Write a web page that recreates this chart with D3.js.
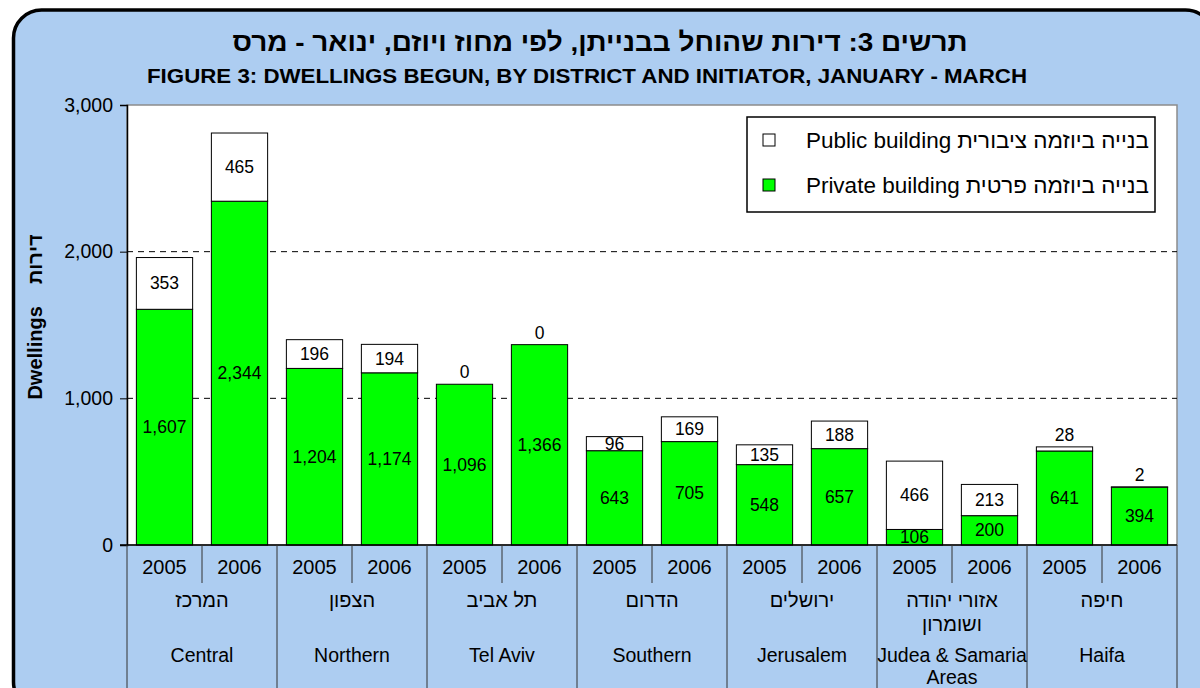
<!DOCTYPE html>
<html>
<meta charset="utf-8" />
<script src="https://d3js.org/d3.v7.min.js"></script>
<style>
  body { margin: 0; background: #fff; }
  text { font-family: "Liberation Sans", Arial, sans-serif; fill: #000; }
</style>
<body>
<svg width="1200" height="688" id="chart"></svg>
<script>
// data
const districtsEn = ["Central", "Northern", "Tel Aviv", "Southern", "Jerusalem", "Judea & Samaria|Areas", "Haifa"];
const districtsHe = ["המרכז", "הצפון", "תל אביב", "הדרום", "ירושלים", "אזורי יהודה|ושומרון", "חיפה"];
const years = ["2005", "2006"];
const privateVals = [1607, 2344, 1204, 1174, 1096, 1366, 643, 705, 548, 657, 106, 200, 641, 394];
const publicVals = [353, 465, 196, 194, 0, 0, 96, 169, 135, 188, 466, 213, 28, 2];
const yTicks = [0, 1000, 2000, 3000];

const svg = d3.select("#chart");
const blue = "#adcdf1";
const green = "#00ff00";

// frame
svg.append("rect")
  .attr("x", 13.5).attr("y", 10)
  .attr("width", 1200).attr("height", 700)
  .attr("rx", 28)
  .attr("fill", blue)
  .attr("stroke", "#000")
  .attr("stroke-width", 3.5);

// titles
svg.append("text")
  .attr("x", 600).attr("y", 51)
  .attr("text-anchor", "middle")
  .attr("font-size", 26).attr("font-weight", "bold")
  .attr("direction", "rtl")
  .attr("textLength", 735).attr("lengthAdjust", "spacingAndGlyphs")
  .text("תרשים 3: דירות שהוחל בבנייתן, לפי מחוז ויוזם, ינואר - מרס");

svg.append("text")
  .attr("x", 587).attr("y", 83)
  .attr("text-anchor", "middle")
  .attr("font-size", 20).attr("font-weight", "bold")
  .attr("textLength", 880).attr("lengthAdjust", "spacingAndGlyphs")
  .text("FIGURE 3: DWELLINGS BEGUN, BY DISTRICT AND INITIATOR, JANUARY - MARCH");

const pLeft = 127, pRight = 1177, pTop = 105, pBottom = 545;

const bars = privateVals.map((p, i) => ({
  key: i, district: Math.floor(i / 2), year: years[i % 2], priv: p, pub: publicVals[i]
}));

const x = d3.scaleBand()
  .domain(bars.map(d => d.key))
  .range([pLeft, pRight])
  .paddingInner(0.25).paddingOuter(0.125);

const xGroup = d3.scaleBand()
  .domain(d3.range(districtsEn.length))
  .range([pLeft, pRight]);

const y = d3.scaleLinear().domain([0, 3000]).range([pBottom, pTop]);

// plot area
svg.append("rect")
  .attr("x", pLeft).attr("y", pTop)
  .attr("width", pRight - pLeft).attr("height", pBottom - pTop)
  .attr("fill", "#fff")
  .attr("stroke", "#8c8c8c").attr("stroke-width", 1.5);

// gridlines
svg.append("g")
  .selectAll("line")
  .data(yTicks.filter(t => t > 0 && t < 3000))
  .join("line")
  .attr("x1", pLeft).attr("x2", pRight)
  .attr("y1", d => y(d)).attr("y2", d => y(d))
  .attr("stroke", "#000")
  .attr("stroke-dasharray", "6,5");

// y axis
const yAxis = svg.append("g")
  .attr("transform", `translate(${pLeft},0)`)
  .call(d3.axisLeft(y).tickValues(yTicks).tickFormat(d3.format(",")).tickSize(7).tickPadding(7));
yAxis.select(".domain").attr("stroke", "#000").attr("stroke-width", 1.5);
yAxis.selectAll("text").attr("font-size", 19.5).attr("font-family", "Liberation Sans, Arial, sans-serif");

svg.append("text")
  .attr("transform", `translate(42, ${(pTop + pBottom) / 2 - 8}) rotate(-90)`)
  .attr("text-anchor", "middle")
  .attr("font-size", 20).attr("font-weight", "bold")
  .text("Dwellings\u00A0\u00A0\u00A0\u00A0דירות");

// bars
const barG = svg.append("g");
barG.selectAll(".priv")
  .data(bars)
  .join("rect")
  .attr("class", "priv")
  .attr("x", d => x(d.key))
  .attr("width", x.bandwidth())
  .attr("y", d => y(d.priv))
  .attr("height", d => y(0) - y(d.priv))
  .attr("fill", green)
  .attr("stroke", "#000").attr("stroke-width", 1);

barG.selectAll(".pub")
  .data(bars.filter(d => d.pub > 0))
  .join("rect")
  .attr("class", "pub")
  .attr("x", d => x(d.key))
  .attr("width", x.bandwidth())
  .attr("y", d => y(d.priv + d.pub))
  .attr("height", d => y(d.priv) - y(d.priv + d.pub))
  .attr("fill", "#fff")
  .attr("stroke", "#000").attr("stroke-width", 1);

// value labels
const fmt = d3.format(",");
barG.selectAll(".lp")
  .data(bars)
  .join("text")
  .attr("x", d => x(d.key) + x.bandwidth() / 2)
  .attr("y", d => (y(0) + y(d.priv)) / 2 + 6)
  .attr("text-anchor", "middle")
  .attr("font-size", 17.5)
  .text(d => fmt(d.priv));

barG.selectAll(".lu")
  .data(bars)
  .join("text")
  .attr("x", d => x(d.key) + x.bandwidth() / 2)
  .attr("y", d => {
    const h = y(d.priv) - y(d.priv + d.pub);
    if (h < 12) return y(d.priv + d.pub) - 6;
    return (y(d.priv) + y(d.priv + d.pub)) / 2 + 6;
  })
  .attr("text-anchor", "middle")
  .attr("font-size", 17.5)
  .text(d => fmt(d.pub));

// category axis
const catG = svg.append("g");
catG.append("line")
  .attr("x1", pLeft - 7).attr("x2", pRight)
  .attr("y1", pBottom).attr("y2", pBottom)
  .attr("stroke", "#000").attr("stroke-width", 1.5);

// group separators
catG.selectAll(".gsep")
  .data(d3.range(districtsEn.length + 1))
  .join("line")
  .attr("x1", d => d < districtsEn.length ? xGroup(d) : pRight)
  .attr("x2", d => d < districtsEn.length ? xGroup(d) : pRight)
  .attr("y1", pBottom).attr("y2", 688)
  .attr("stroke", "#333").attr("stroke-width", 1);

// year separators
catG.selectAll(".ysep")
  .data(d3.range(districtsEn.length))
  .join("line")
  .attr("x1", d => xGroup(d) + xGroup.bandwidth() / 2)
  .attr("x2", d => xGroup(d) + xGroup.bandwidth() / 2)
  .attr("y1", pBottom).attr("y2", 583)
  .attr("stroke", "#333").attr("stroke-width", 1);

catG.selectAll(".yl")
  .data(bars)
  .join("text")
  .attr("x", d => x(d.key) + x.bandwidth() / 2)
  .attr("y", 574)
  .attr("text-anchor", "middle")
  .attr("font-size", 20)
  .text(d => d.year);

districtsHe.forEach((name, i) => {
  name.split("|").forEach((line, j) => {
    catG.append("text")
      .attr("x", xGroup(i) + xGroup.bandwidth() / 2)
      .attr("y", 607 + j * 24)
      .attr("text-anchor", "middle")
      .attr("font-size", 20)
      .text(line);
  });
});

districtsEn.forEach((name, i) => {
  name.split("|").forEach((line, j) => {
    catG.append("text")
      .attr("x", xGroup(i) + xGroup.bandwidth() / 2)
      .attr("y", 662 + j * 22)
      .attr("text-anchor", "middle")
      .attr("font-size", 19.5)
      .text(line);
  });
});

// legend
const lg = svg.append("g");
lg.append("rect")
  .attr("x", 747).attr("y", 117)
  .attr("width", 408).attr("height", 95)
  .attr("fill", "#fff").attr("stroke", "#000").attr("stroke-width", 1.5);

const legendItems = [
  { he: "בנייה ביוזמה ציבורית", en: "Public building", color: "#fff" },
  { he: "בנייה ביוזמה פרטית", en: "Private building", color: green }
];
legendItems.forEach((d, i) => {
  const cy = 140 + i * 45;
  lg.append("rect")
    .attr("x", 763).attr("y", cy - 6)
    .attr("width", 12).attr("height", 12)
    .attr("fill", d.color).attr("stroke", "#000").attr("stroke-width", 1);
  const he = lg.append("text")
    .attr("x", 1149).attr("y", cy + 8)
    .attr("text-anchor", "end")
    .attr("font-size", 22.5)
    .text(d.he);
  const w = he.node().getComputedTextLength();
  lg.append("text")
    .attr("x", 1149 - w - 6).attr("y", cy + 8)
    .attr("text-anchor", "end")
    .attr("font-size", 22.5)
    .text(d.en);
});
</script>
</body>
</html>
